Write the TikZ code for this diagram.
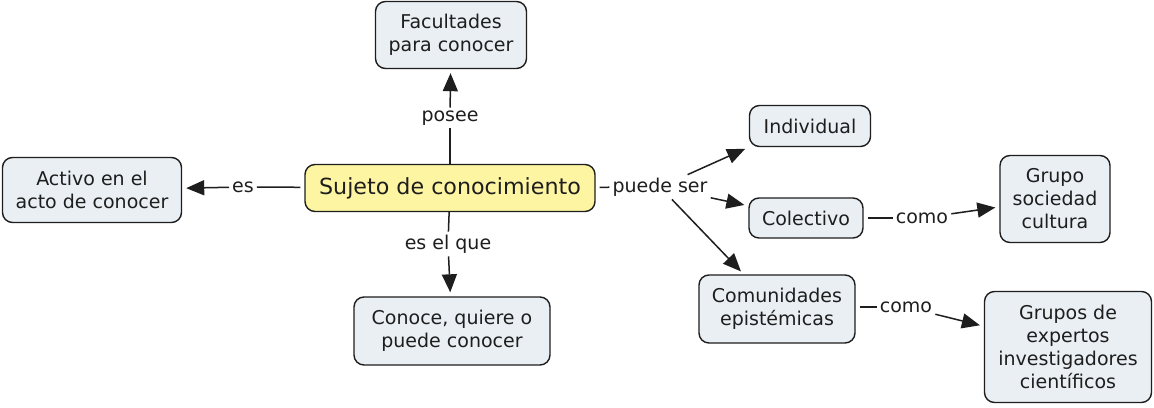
\documentclass[tikz,border=0pt]{standalone}
\usepackage{fontspec}
\setmainfont{DejaVu Sans}
\usetikzlibrary{arrows.meta}
\definecolor{boxfill}{HTML}{E9EFF3}
\definecolor{mainfill}{HTML}{FEF5A2}
\definecolor{ink}{HTML}{1E1E1E}
\tikzset{
  concept/.style={draw=ink, line width=1.4pt, fill=boxfill, rounded corners=10pt,
    align=center, inner sep=2pt, text=ink, font=\fontsize{19}{23}\selectfont},
  mainconcept/.style={concept, fill=mainfill, font=\fontsize{22.2}{26}\selectfont},
  linklabel/.style={inner sep=3pt, text=ink, font=\fontsize{19}{22}\selectfont},
  conn/.style={draw=ink, line width=1.5pt},
  gapconn/.style={conn, shorten <=4pt},
  arr/.style={conn, -{Triangle[length=18pt,width=15pt]}, shorten >=4pt}
}
\begin{document}
\begin{tikzpicture}[x=1pt,y=-1pt]
\useasboundingbox (0,0) rectangle (1154,407);
\fill[white] (0,0) rectangle (1154,407);
% concepts
\node[mainconcept, minimum width=290pt, minimum height=47pt] (suj) at (450,188) {Sujeto de conocimiento};
\node[concept, minimum width=151pt, minimum height=67pt] (fac) at (451,35) {Facultades\\para conocer};
\node[concept, minimum width=179pt, minimum height=65pt] (act) at (92,190) {Activo en el\\acto de conocer};
\node[concept, minimum width=196pt, minimum height=68pt] (con) at (452,331) {Conoce, quiere o\\puede conocer};
\node[concept, minimum width=121pt, minimum height=41pt] (ind) at (810,126) {Individual};
\node[concept, minimum width=114pt, minimum height=40pt] (col) at (806,218) {Colectivo};
\node[concept, minimum width=110pt, minimum height=87pt] (grp) at (1055,199) {Grupo\\sociedad\\cultura};
\node[concept, minimum width=156pt, minimum height=68pt] (com) at (777,309) {Comunidades\\epistémicas};
\node[concept, minimum width=167pt, minimum height=111pt] (gex) at (1068,347) {Grupos de\\expertos\\investigadores\\científicos};
% link labels
\node[linklabel] (lposee) at (450,118) {posee};
\node[linklabel] (les) at (243,187) {es};
\node[linklabel] (lesel) at (448,244) {es el que};
\node[linklabel] (lps) at (660,187) {puede ser};
\node[linklabel] (lcomo1) at (922,218) {como};
\node[linklabel] (lcomo2) at (906,307) {como};
% connectors
\draw[conn] (suj) -- (lposee);
\draw[arr] (lposee) -- (fac);
\draw[gapconn] (suj) -- (les);
\draw[arr] (les) -- (act);
\draw[conn] (suj) -- (lesel);
\draw[arr] (lesel) -- (con);
\draw[gapconn] (suj) -- (lps);
\draw[arr] (lps) -- (ind.south west);
\draw[arr] (lps) -- (col);
\draw[arr] (lps) -- (com);
\draw[gapconn] (col) -- (lcomo1);
\draw[arr] (lcomo1) -- (grp);
\draw[gapconn] (com.east |- lcomo2) -- (lcomo2);
\draw[arr] (lcomo2) -- (gex);
\end{tikzpicture}
\end{document}
